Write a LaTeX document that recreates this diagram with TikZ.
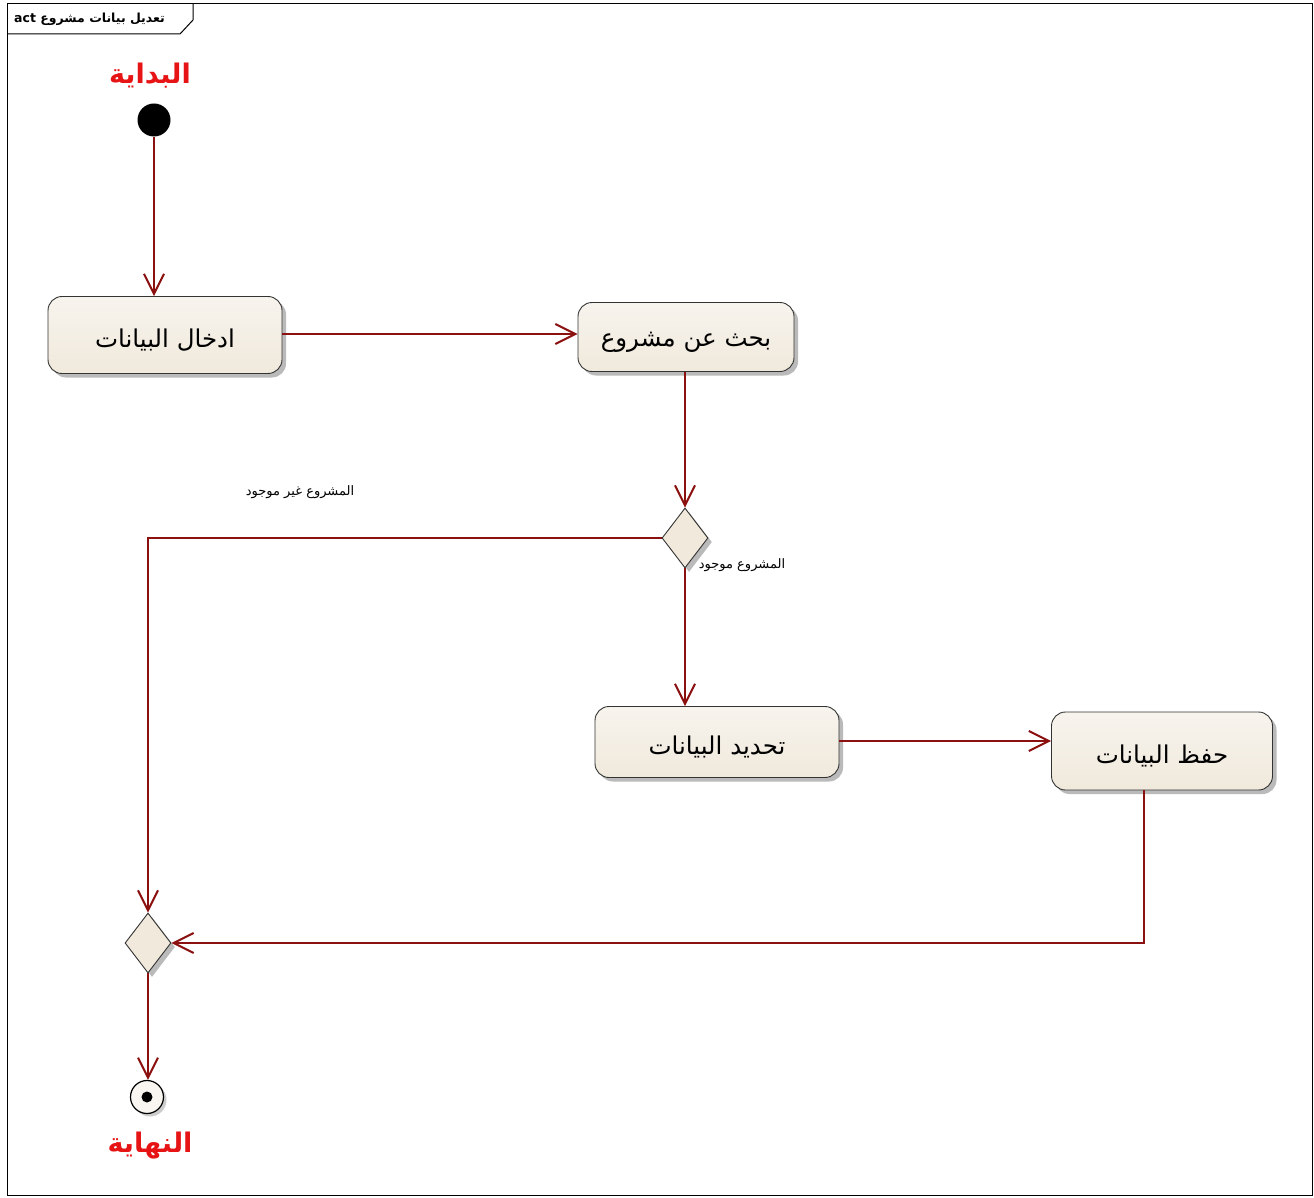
\documentclass[tikz,border=0pt]{standalone}
\usepackage{fontspec}
\setmainfont{DejaVu Sans}
\newfontfamily\arabicfont[Script=Arabic]{DejaVu Sans}
\TeXXeTstate=1
\usetikzlibrary{arrows.meta,shapes.geometric,shadows}
\definecolor{flow}{RGB}{139,16,16}
\definecolor{cream}{RGB}{240,233,220}
\definecolor{startred}{RGB}{230,20,20}
% action captions sit a little below the box centre
\newcommand{\acttext}[1]{\raisebox{-5pt}[\height][\depth]{\beginR #1\endR}}
\tikzset{
  action/.style={draw=black!80, line width=0.9pt, rounded corners=14pt,
    top color=white!50!cream, bottom color=cream, text=black,
    drop shadow={shadow xshift=4pt, shadow yshift=-4pt, fill=black!45, opacity=0.6},
    font=\arabicfont\fontsize{24.5}{28}\selectfont, inner sep=0pt},
  choice/.style={diamond, draw=black!80, line width=0.9pt, fill=cream,
    minimum width=46pt, minimum height=60pt, inner sep=0pt,
    drop shadow={shadow xshift=4pt, shadow yshift=-4pt, fill=black!45, opacity=0.6}},
  flowline/.style={draw=flow, line width=2pt,
    -{Straight Barb[length=20pt,width=20pt,line width=2pt]}},
  endlabel/.style={text=startred, font=\arabicfont\bfseries\fontsize{27}{32}\selectfont},
  guard/.style={font=\arabicfont\fontsize{13}{15}\selectfont, text=black}
}
\begin{document}
\begin{tikzpicture}[x=1pt,y=-1pt]
\useasboundingbox (0,0) rectangle (1314,1198);
% frame and title tab
\draw[black, line width=1pt] (7,4) rectangle (1312,1195);
\draw[black, line width=1pt] (7,34) -- (180,34) -- (193,20) -- (193,4);
\node[anchor=west, inner sep=0pt, font=\bfseries\fontsize{12.5}{14}\selectfont] (title) at (14,19)
  {act \arabicfont\beginR تعديل بيانات مشروع\endR};

% initial and final nodes
\node[endlabel] (startlbl) at (150,76) {\beginR البداية\endR};
\node[circle, fill=black, minimum size=33pt, inner sep=0pt] (start) at (154,120) {};
\node[circle, draw=black, line width=1.2pt, fill=cream!40, minimum size=33pt, inner sep=0pt,
  drop shadow={shadow xshift=3pt, shadow yshift=-3pt, fill=black!40, opacity=0.5}] (final) at (147,1097) {};
\node[circle, fill=black, minimum size=11pt, inner sep=0pt] (finaldot) at (final) {};
\node[endlabel] (endlbl) at (150,1146) {\beginR النهاية\endR};

% actions
\node[action, minimum width=234pt, minimum height=77pt] (a1) at (165,335) {\acttext{ادخال البيانات}};
\node[action, minimum width=216pt, minimum height=69pt] (a2) at (686,337) {\acttext{بحث عن مشروع}};
\node[action, minimum width=244pt, minimum height=71pt] (a3) at (717,742) {\acttext{تحديد البيانات}};
\node[action, minimum width=221pt, minimum height=78pt] (a4) at (1162,751) {\acttext{حفظ البيانات}};

% decision and merge
\node[choice] (d1) at (685,538) {};
\node[choice] (d2) at (148,943) {};

% guards
\node[guard] (g1) at (300,492) {\beginR المشروع غير موجود\endR};
\node[guard] (g2) at (742,565) {\beginR المشروع موجود\endR};

% flows
\draw[flowline] (start) -- (start |- a1.north);
\draw[flowline] (a1.east |- 0,334) -- (a2.west |- 0,334);
\draw[flowline] (d1.north |- a2.south) -- (d1.north);
\draw[flowline] (d1.west) -| (d2.north);
\draw[flowline] (d1.south) -- (d1.south |- a3.north);
\draw[flowline] (a3.east |- 0,741) -- (a4.west |- 0,741);
\coordinate (a4out) at (1144,790);
\draw[flowline] (a4out) |- (d2.east);
\draw[flowline] (d2.south) -- (final.north -| d2.south);
\end{tikzpicture}
\end{document}
